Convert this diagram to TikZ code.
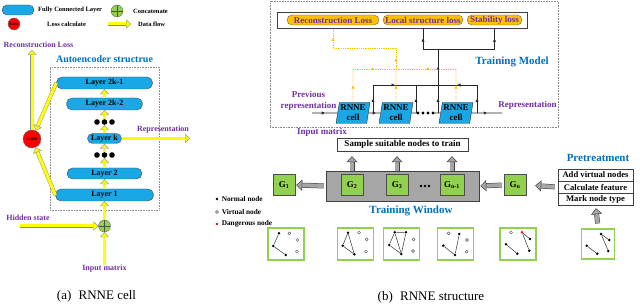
\documentclass[tikz,border=0pt]{standalone}
\usepackage{fontspec}
\setmainfont{Liberation Serif}
\usepackage{tikz}
\usepackage{xcolor}
\usetikzlibrary{arrows.meta,positioning,shapes.geometric,decorations.markings}

\definecolor{fcblue}{HTML}{1AA7E6}
\definecolor{ttlblue}{HTML}{0070C0}
\definecolor{lblpurple}{HTML}{7030A0}
\definecolor{ggreen}{HTML}{92D050}
\definecolor{pillorange}{HTML}{FFC000}
\definecolor{flowyellow}{HTML}{FFFF00}
\definecolor{wingray}{HTML}{A6A6A6}

\newcommand{\myfs}[2]{\fontsize{#1}{#2}\selectfont}

\begin{document}
\begin{tikzpicture}[
  x=1pt, y=-1pt,
  layer/.style={draw=black!70, fill=fcblue, rounded corners=5.5pt, inner sep=0pt, font=\bfseries\myfs{8}{9}},
  concat/.style={circle, draw=black!60, fill=ggreen, minimum size=12pt, inner sep=0pt,
    path picture={\draw[black!70] (path picture bounding box.north) -- (path picture bounding box.south)
      (path picture bounding box.west) -- (path picture bounding box.east);}},
  losscirc/.style={circle, draw=black!60, fill=red, inner sep=0pt, font=\bfseries\myfs{4.5}{5}},
  flow/.style={draw=black!45, line width=0.4pt, double=flowyellow, double distance=3pt,
    -{Triangle[length=5pt, width=9pt, fill=flowyellow, line width=0.4pt]}},
  legtext/.style={font=\bfseries\myfs{6.5}{7}, anchor=west, inner sep=0pt},
  nodetext/.style={font=\bfseries\myfs{7.3}{8}, anchor=west, inner sep=0pt},
  lbl/.style={text=lblpurple, font=\bfseries\myfs{8}{9}, inner sep=0pt, align=center},
  lblb/.style={text=lblpurple, font=\bfseries\myfs{9}{11}, inner sep=0pt, align=center},
  ttl/.style={text=ttlblue, font=\bfseries\myfs{11}{12}, inner sep=0pt},
  frame/.style={draw=black!45, densely dotted, line width=0.6pt, inner sep=0pt},
  captext/.style={font=\myfs{13}{14}, inner sep=0pt},
  rnne/.style={trapezium, trapezium left angle=79, trapezium right angle=101, trapezium stretches=true,
    draw=black!80, fill=fcblue, minimum width=34pt, minimum height=21pt, inner sep=0pt,
    align=center, font=\bfseries\myfs{9}{10}},
  pill/.style={draw=black!60, fill=pillorange, rounded corners=5pt, minimum height=10pt, inner sep=0pt,
    text=lblpurple, font=\bfseries\myfs{9}{10}},
  wire/.style={draw=black!85, line width=0.7pt},
  ywire/.style={draw=pillorange, densely dotted, line width=0.8pt},
  midarr/.style={postaction={decorate, decoration={markings,
    mark=at position #1 with {\arrow{Triangle[length=3pt, width=3pt]}}}}},
  midarr/.default=0.5,
  gbox/.style={draw=black!70, fill=ggreen, minimum width=22pt, minimum height=21pt, inner sep=0pt,
    font=\bfseries\myfs{9}{10}},
  hollow/.style={draw=black!75, line width=0.5pt, double=wingray, double distance=4pt,
    -{Triangle[length=6pt, width=11pt, fill=wingray, line width=0.5pt]}},
  prebox/.style={draw=black!75, fill=white, minimum width=75pt, minimum height=11.7pt, inner sep=0pt,
    font=\bfseries\myfs{8.6}{9}},
  thumb/.style={draw=ggreen, line width=1.2pt, fill=white, minimum width=36pt, minimum height=32pt, inner sep=0pt},
  nnode/.style={circle, fill=black, inner sep=0pt, minimum size=2.8pt},
  vnode/.style={circle, draw=black!70, fill=white, line width=0.4pt, inner sep=0pt, minimum size=3pt},
  dnode/.style={circle, fill=red, inner sep=0pt, minimum size=2.8pt},
  gedge/.style={draw=black!80, line width=0.5pt}
]
\useasboundingbox (0,0) rectangle (640,304);

% (a) legend
\node[layer, minimum width=32pt, minimum height=10pt, rounded corners=5pt] (lgfc) at (18,10) {};
\node[legtext] (lgfct) at (38,10) {Fully Connected Layer};
\node[concat] (lgcat) at (117,11) {};
\node[legtext] (lgcatt) at (133,11) {Concatenate};
\node[losscirc, minimum size=12pt] (lgloss) at (14,24) {Loss};
\node[legtext] (lglosst) at (47,24) {Loss calculate};
\coordinate (lgfa) at (108,24);
\coordinate (lgfb) at (131,24);
\node[legtext] (lgflowt) at (138,24) {Data flow};
\draw[flow] (lgfa) -- (lgfb);

% (a) RNNE cell
\node[frame, minimum width=109pt, minimum height=143pt] (aeframe) at (104.5,138.5) {};
\node[ttl, font=\bfseries\myfs{10}{11}] (aettl) at (104.5,59) {Autoencoder structrue};
\node[layer, minimum width=96pt, minimum height=12pt] (l2k1) at (104.5,83) {Layer 2k-1};
\node[layer, minimum width=76pt, minimum height=12pt] (l2k2) at (104.5,104) {Layer 2k-2};
\node[minimum width=22pt, minimum height=6pt, inner sep=0pt] (dotsu) at (104.5,122) {};
\node[layer, minimum width=34pt, minimum height=10pt, rounded corners=5pt] (lk) at (104.5,138.5) {Layer k};
\node[minimum width=22pt, minimum height=6pt, inner sep=0pt] (dotsd) at (104.5,155) {};
\node[layer, minimum width=75pt, minimum height=11pt] (l2) at (104.5,173.5) {Layer 2};
\node[layer, minimum width=98pt, minimum height=12pt] (l1) at (104.5,195) {Layer 1};
\node[concat] (cat) at (104.5,226) {};
\node[losscirc, minimum size=18pt, font=\bfseries\myfs{5.5}{6}] (loss) at (32,139) {Loss};
\node[lbl] (recla) at (38.5,45) {Reconstruction Loss};
\node[lbl] (repla) at (163,130) {Representation};
\node[lbl] (hidla) at (28,218) {Hidden state};
\node[lbl] (inpla) at (104.5,269) {Input matrix};
\coordinate (recend) at (32,50);
\coordinate (repend) at (190,138.5);
\coordinate (hidstart) at (20,226);

\draw[flow] (l1) -- (l2);
\draw[flow] (l2) -- (dotsd);
\draw[flow] (dotsd) -- (lk);
\draw[flow] (lk) -- (dotsu);
\draw[flow] (dotsu) -- (l2k2);
\draw[flow] (l2k2) -- (l2k1);
\draw[flow] (cat) -- (l1);
\draw[flow] (inpla) -- (cat);
\draw[flow] (hidstart) -- (cat);
\draw[flow] (lk) -- (repend);
\draw[flow] (loss) -- (recend);
\draw[flow] (l2k1.west) -- (loss);
\draw[flow] (l1.west) -- (loss);
\foreach \dx in {-7.5,0,7.5} {
  \fill (104.5+\dx,122) circle (2.8pt);
  \fill (104.5+\dx,155) circle (2.8pt);
}

\node[captext] (capa) at (96.5,296) {(a)\hspace{4pt} RNNE cell};

% (b) training model
\node[frame, minimum width=288pt, minimum height=126pt] (tmframe) at (414,64) {};
\node[draw=black!75, fill=white, line width=0.7pt, minimum width=250pt, minimum height=16pt] (lossbox) at (402,20) {};
\node[pill, minimum width=92pt] (rl) at (333,20) {Reconstruction Loss};
\node[pill, minimum width=80pt] (lsl) at (423,20) {Local structure loss};
\node[pill, minimum width=55pt] (sl) at (494.5,20) {Stability loss};
\node[ttl] (tmttl) at (512,62) {Training Model};

\node[rnne] (cell1) at (353,113) {RNNE\\cell};
\node[rnne] (cell2) at (396,113) {RNNE\\cell};
\node[minimum width=17pt, minimum height=4pt, inner sep=0pt] (cdots) at (425.5,113) {};
\node[rnne] (cell3) at (456,113) {RNNE\\cell};
\node[lblb] (prevla) at (308.5,100.5) {Previous\\representation};
\node[lblb] (repbla) at (527.5,105) {Representation};
\node[lblb] (inpbla) at (322,132) {Input matrix};

\coordinate (previn) at (312,113);
\coordinate (repout) at (502,113);
\coordinate (j1) at (373,113);
\coordinate (j2) at (416,113);
\coordinate (j3) at (438,113);
\coordinate (j4) at (477,113);
\coordinate (b1) at (373,85);
\coordinate (b2) at (416,85);
\coordinate (b3) at (438,85);
\coordinate (b4) at (477,85);
\coordinate (sj) at (438,49);
\coordinate (sjl) at (423,49);
\coordinate (sjr) at (494.5,49);
\coordinate (y1) at (353,69);
\coordinate (y2) at (396,69);
\coordinate (y3) at (396,48);
\coordinate (y4) at (333,48);
\coordinate (y5) at (456,69);

\draw[wire, midarr] (previn) -- (cell1);
\draw[wire, midarr=0.6] (cell1) -- (cell2);
\draw[wire] (cell2) -- (cdots);
\draw[wire] (cdots) -- (cell3);
\draw[wire, midarr] (cell3) -- (repout);
\draw[wire, midarr] (j1) -- (b1);
\draw[wire, midarr] (j2) -- (b2);
\draw[wire, midarr] (j3) -- (b3);
\draw[wire, midarr] (j4) -- (b4);
\draw[wire, midarr] (b1) -- (b2);
\draw[wire] (b2) -- (b3);
\draw[wire, midarr] (b4) -- (b3);
\draw[wire, midarr] (b3) -- (sj);
\draw[wire] (sjl) -- (sjr);
\draw[wire, midarr] (sjl) -- (lsl |- lossbox.south);
\draw[wire, midarr] (sjr) -- (sl |- lossbox.south);

\draw[ywire, midarr] (cell1.north) -- (y1);
\draw[ywire, midarr] (y1) -- (y2);
\draw[ywire, midarr] (cell3.north) -- (y5);
\draw[ywire, midarr] (y5) -- (y2);
\draw[ywire, midarr] (cell2.north) -- (y2);
\draw[ywire, midarr] (y2) -- (y3);
\draw[ywire] (y3) -- (y4);
\draw[ywire, midarr] (y4) -- (rl |- lossbox.south);

\foreach \dx in {0,5,10,15} \fill (418+\dx,113) circle (1.6pt);

% (b) training window
\node[draw=black!75, fill=white, minimum width=131pt, minimum height=13pt, inner sep=0pt,
  font=\bfseries\myfs{9}{10}] (sample) at (402.5,144.5) {Sample suitable nodes to train};
\node[draw=black!75, fill=wingray, line width=0.6pt, minimum width=153pt, minimum height=30pt] (win) at (402.5,186) {};
\node[gbox] (g1) at (284,185) {G\textsubscript{1}};
\node[gbox] (g2) at (352,185) {G\textsubscript{2}};
\node[gbox] (g3) at (397,185) {G\textsubscript{3}};
\node[gbox, minimum width=24pt] (gn1) at (452,185) {G\textsubscript{n-1}};
\node[gbox] (gn) at (515,185) {G\textsubscript{n}};
\foreach \dx in {0,4,8} \fill (421+\dx,186) circle (1.4pt);
\node[ttl] (twttl) at (411,211) {Training Window};

\node[prebox] (p1) at (595.5,175) {Add virtual nodes};
\node[prebox, below=0pt of p1] (p2) {Calculate feature};
\node[prebox, below=0pt of p2] (p3) {Mark node type};
\node[ttl] (prettl) at (598,158) {Pretreatment};

\draw[hollow, shorten >=5pt] (g2 |- win.north) -- (g2 |- sample.south);
\draw[hollow, shorten >=5pt] (g3 |- win.north) -- (g3 |- sample.south);
\draw[hollow, shorten >=5pt] (gn1 |- win.north) -- (gn1 |- sample.south);
\draw[hollow, shorten <=2pt, shorten >=1pt] (win.west) -- (g1.east);
\draw[hollow, shorten <=2pt, shorten >=1pt] (gn.west) -- (win.east);
\draw[hollow, shorten <=3pt, shorten >=9pt] (p2.west) -- (gn.east);

% node legend
\node[nnode] (lgn) at (217,199) {};
\node[nodetext, right=3pt of lgn] (lgnt) {Normal node};
\node[vnode] (lgv) at (217,212) {};
\node[nodetext, right=3pt of lgv] (lgvt) {Virtual node};
\node[dnode] (lgd) at (217,224) {};
\node[nodetext, right=3pt of lgd] (lgdt) {Dangerous node};

% graph snapshots
\node[thumb] (thumb1) at (286,244) {};
\node[thumb] (thumb2) at (355.3,244) {};
\node[thumb] (thumb3) at (401.3,244) {};
\node[thumb] (thumb4) at (455.5,244) {};
\node[thumb] (thumb5) at (518,244) {};
\node[thumb, minimum width=33pt, minimum height=30pt] (thumb6) at (598.3,244) {};
\draw[hollow, shorten <=5pt, shorten >=3pt] (thumb6.north) -- (p3.south);

\node[nnode] (t1a) at (279,233.3) {};
\node[nnode] (t1b) at (273.3,246) {};
\node[nnode] (t1c) at (285.7,255) {};
\node[vnode] (t1d) at (289.3,233.3) {};
\node[vnode] (t1e) at (297.7,240) {};
\node[vnode] (t1f) at (297,251.7) {};
\draw[gedge] (t1a) -- (t1b) -- (t1c);

\node[nnode] (t2a) at (348,232.7) {};
\node[nnode] (t2b) at (342.7,245.7) {};
\node[nnode] (t2c) at (354.3,254.3) {};
\node[vnode] (t2d) at (359,232.7) {};
\node[vnode] (t2e) at (366.7,239.3) {};
\node[vnode] (t2f) at (366,251.7) {};
\draw[gedge] (t2a) -- (t2b) -- (t2c) -- (t2a);

\node[nnode] (t3a) at (394.7,232.3) {};
\node[nnode] (t3b) at (406,232.3) {};
\node[nnode] (t3c) at (389.3,245) {};
\node[nnode] (t3d) at (401.3,254) {};
\node[vnode] (t3e) at (413.7,239.3) {};
\node[vnode] (t3f) at (413,251) {};
\draw[gedge] (t3a) -- (t3b) -- (t3d) -- (t3c) -- (t3a) -- (t3d);

\node[nnode] (t4a) at (459.3,234) {};
\node[nnode] (t4b) at (443.3,245.7) {};
\node[nnode] (t4c) at (455,255) {};
\node[vnode] (t4d) at (448.7,233.3) {};
\node[vnode] (t4e) at (467,240) {};
\node[vnode] (t4f) at (466.7,251.7) {};
\draw[gedge] (t4a) -- (t4c) -- (t4b);

\node[vnode] (t5a) at (511,232.3) {};
\node[dnode] (t5b) at (522,232.3) {};
\node[nnode] (t5c) at (530,239) {};
\node[nnode] (t5d) at (506,244.3) {};
\node[nnode] (t5e) at (517.3,253.7) {};
\node[nnode] (t5f) at (529.3,250.7) {};
\draw[gedge] (t5c) -- (t5b) -- (t5f);
\draw[gedge] (t5d) -- (t5e);

\node[nnode] (t6a) at (601,234) {};
\node[nnode] (t6b) at (609.3,240) {};
\node[nnode] (t6c) at (586.7,245.7) {};
\node[nnode] (t6d) at (597.3,253.7) {};
\node[nnode] (t6e) at (608.3,251) {};
\draw[gedge] (t6b) -- (t6a) -- (t6e);
\draw[gedge] (t6c) -- (t6d);

\node[captext] (capb) at (431,297) {(b)\hspace{4pt} RNNE structure};
\end{tikzpicture}
\end{document}
